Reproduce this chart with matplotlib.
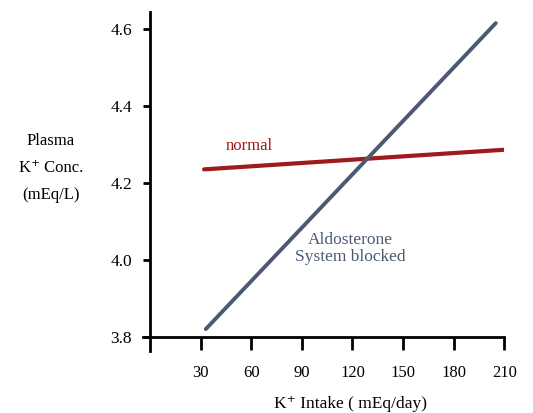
import matplotlib
matplotlib.use('Agg')
import matplotlib.pyplot as plt

plt.rcParams['font.family'] = ['Liberation Serif', 'DejaVu Serif']

# data
intake_normal = [32, 210]
conc_normal = [4.236, 4.287]
intake_blocked = [33, 205]
conc_blocked = [3.821, 4.616]
xticks = [30, 60, 90, 120, 150, 180, 210]
yticks = [3.8, 4.0, 4.2, 4.4, 4.6]

red = '#9e1a1c'
blue = '#4b5a72'

fig = plt.figure(figsize=(5.33, 4.13), dpi=100)
ax = fig.add_axes([0.269, 0.151, 0.677, 0.820])

ax.plot(intake_normal, conc_normal, color=red, lw=3, solid_capstyle='round')
ax.plot(intake_blocked, conc_blocked, color=blue, lw=2.8, solid_capstyle='round')

ax.text(44.6, 4.296, 'normal', color=red, fontsize=12, ha='left', va='center')
ax.text(119, 4.03, 'Aldosterone\nSystem blocked', color=blue, fontsize=12.5,
        ha='center', va='center', linespacing=1.1)

ax.set_xlim(-4, 210)
ax.set_ylim(3.765, 4.645)
ax.spines['left'].set_position(('data', 0))
ax.spines['bottom'].set_position(('data', 3.8))
ax.spines['right'].set_visible(False)
ax.spines['top'].set_visible(False)
for s in ['left', 'bottom']:
    ax.spines[s].set_linewidth(2)

ax.set_xticks(xticks)
ax.set_xticklabels([str(t) for t in xticks])
ax.set_yticks(yticks)
ax.set_yticklabels(['%.1f' % t for t in yticks])
ax.tick_params(axis='x', direction='out', length=9.5, width=2, pad=10.5, labelsize=12)
ax.tick_params(axis='y', direction='out', length=5, width=2, pad=8, labelsize=12.5)

fig.text(350 / 533, 1 - 404 / 413, 'K\u207a Intake ( mEq/day)', fontsize=12.5,
         ha='center', va='center')
fig.text(51 / 533, 1 - 168 / 413, 'Plasma\nK\u207a Conc.\n(mEq/L)', fontsize=12,
         ha='center', va='center', linespacing=1.95)

fig.savefig('out.png', dpi=100)
